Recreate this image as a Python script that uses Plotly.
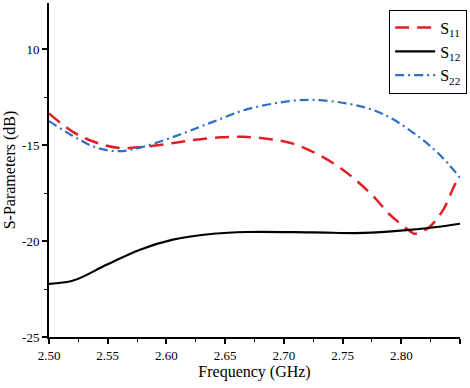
import plotly.graph_objects as go

freq_s11 = [2.500, 2.5207, 2.5406, 2.5605, 2.5803, 2.603, 2.6229, 2.6456, 2.6655, 2.6854,
            2.7052, 2.7251, 2.7436, 2.7591, 2.7762, 2.7904, 2.8089, 2.8115, 2.823, 2.8358, 2.8457, 2.850]
s11 = [-13.35, -14.33, -14.88, -15.16, -15.09, -14.92, -14.74, -14.60, -14.57, -14.67,
       -14.88, -15.37, -16.01, -16.71, -17.67, -18.63, -19.55, -19.62, -19.32, -18.36, -17.06, -16.70]

freq_s12 = [2.500, 2.5207, 2.549, 2.5775, 2.6055, 2.640, 2.6684, 2.7251, 2.7677, 2.8018, 2.8301, 2.850]
s12 = [-22.23, -22.06, -21.24, -20.45, -19.93, -19.62, -19.53, -19.55, -19.58, -19.45, -19.27, -19.10]

freq_s22 = [2.500, 2.5207, 2.5406, 2.5605, 2.5803, 2.6116, 2.640, 2.6684, 2.7052, 2.7251,
            2.7535, 2.7762, 2.793, 2.816, 2.8301, 2.840, 2.850]
s22 = [-13.75, -14.54, -15.14, -15.32, -15.09, -14.45, -13.78, -13.14, -12.71, -12.65,
       -12.83, -13.18, -13.66, -14.62, -15.35, -15.98, -16.70]

x_ticks = [2.50, 2.55, 2.60, 2.65, 2.70, 2.75, 2.80, 2.85]
x_ticktext = ["2.50", "2.55", "2.60", "2.65", "2.70", "2.75", "2.80", "2.85"]
y_ticks = [-10, -15, -20, -25]
y_ticktext = ["10", "-15", "-20", "-25"]

FONT = "Liberation Serif, Times New Roman, serif"

fig = go.Figure()
fig.add_trace(go.Scatter(x=freq_s11, y=s11, mode="lines", name="S<sub>11</sub>",
                         line=dict(color="#e41e26", width=2.5, dash="14px,8px", shape="spline")))
fig.add_trace(go.Scatter(x=freq_s12, y=s12, mode="lines", name="S<sub>12</sub>",
                         line=dict(color="black", width=2.2, shape="spline")))
fig.add_trace(go.Scatter(x=freq_s22, y=s22, mode="lines", name="S<sub>22</sub>",
                         line=dict(color="#2f6fc4", width=2.2, dash="9px,4px,2px,4px", shape="spline")))

fig.update_layout(
    width=470, height=388,
    margin=dict(l=49, r=10, t=3, b=51, autoexpand=False),
    paper_bgcolor="white", plot_bgcolor="white",
    font=dict(family=FONT, size=12, color="black"),
    showlegend=True,
    legend=dict(xref="container", yref="container", x=0.828, y=0.975,
                xanchor="left", yanchor="top",
                bordercolor="black", borderwidth=1, bgcolor="white",
                font=dict(family=FONT, size=16, color="black"),
                tracegroupgap=0, itemwidth=40),
)
fig.update_xaxes(
    range=[2.5, 2.85], tickvals=x_ticks, ticktext=x_ticktext, automargin=False,
    showline=True, linecolor="black", linewidth=2, mirror=False,
    ticks="outside", ticklen=5, tickwidth=1.5, tickcolor="black",
    minor=dict(ticks="outside", dtick=0.025, ticklen=3, tickwidth=1, tickcolor="black"),
    showgrid=False, zeroline=False,
    tickfont=dict(family=FONT, size=13),
    title=dict(text="Frequency (GHz)", font=dict(family=FONT, size=16), standoff=3),
)
fig.update_yaxes(
    range=[-25, -7.6], tickvals=y_ticks, ticktext=y_ticktext, automargin=False,
    showline=True, linecolor="black", linewidth=2, mirror=False,
    ticks="outside", ticklen=5, tickwidth=1.5, tickcolor="black",
    minor=dict(ticks="outside", dtick=2.5, ticklen=3, tickwidth=1, tickcolor="black"),
    showgrid=False, zeroline=False,
    tickfont=dict(family=FONT, size=13),
    title=dict(text="S-Parameters (dB)", font=dict(family=FONT, size=16), standoff=2),
)

fig.write_html("out.html", config={"displayModeBar": False},
               post_script="document.body.style.margin='0';document.body.style.overflow='hidden';")
